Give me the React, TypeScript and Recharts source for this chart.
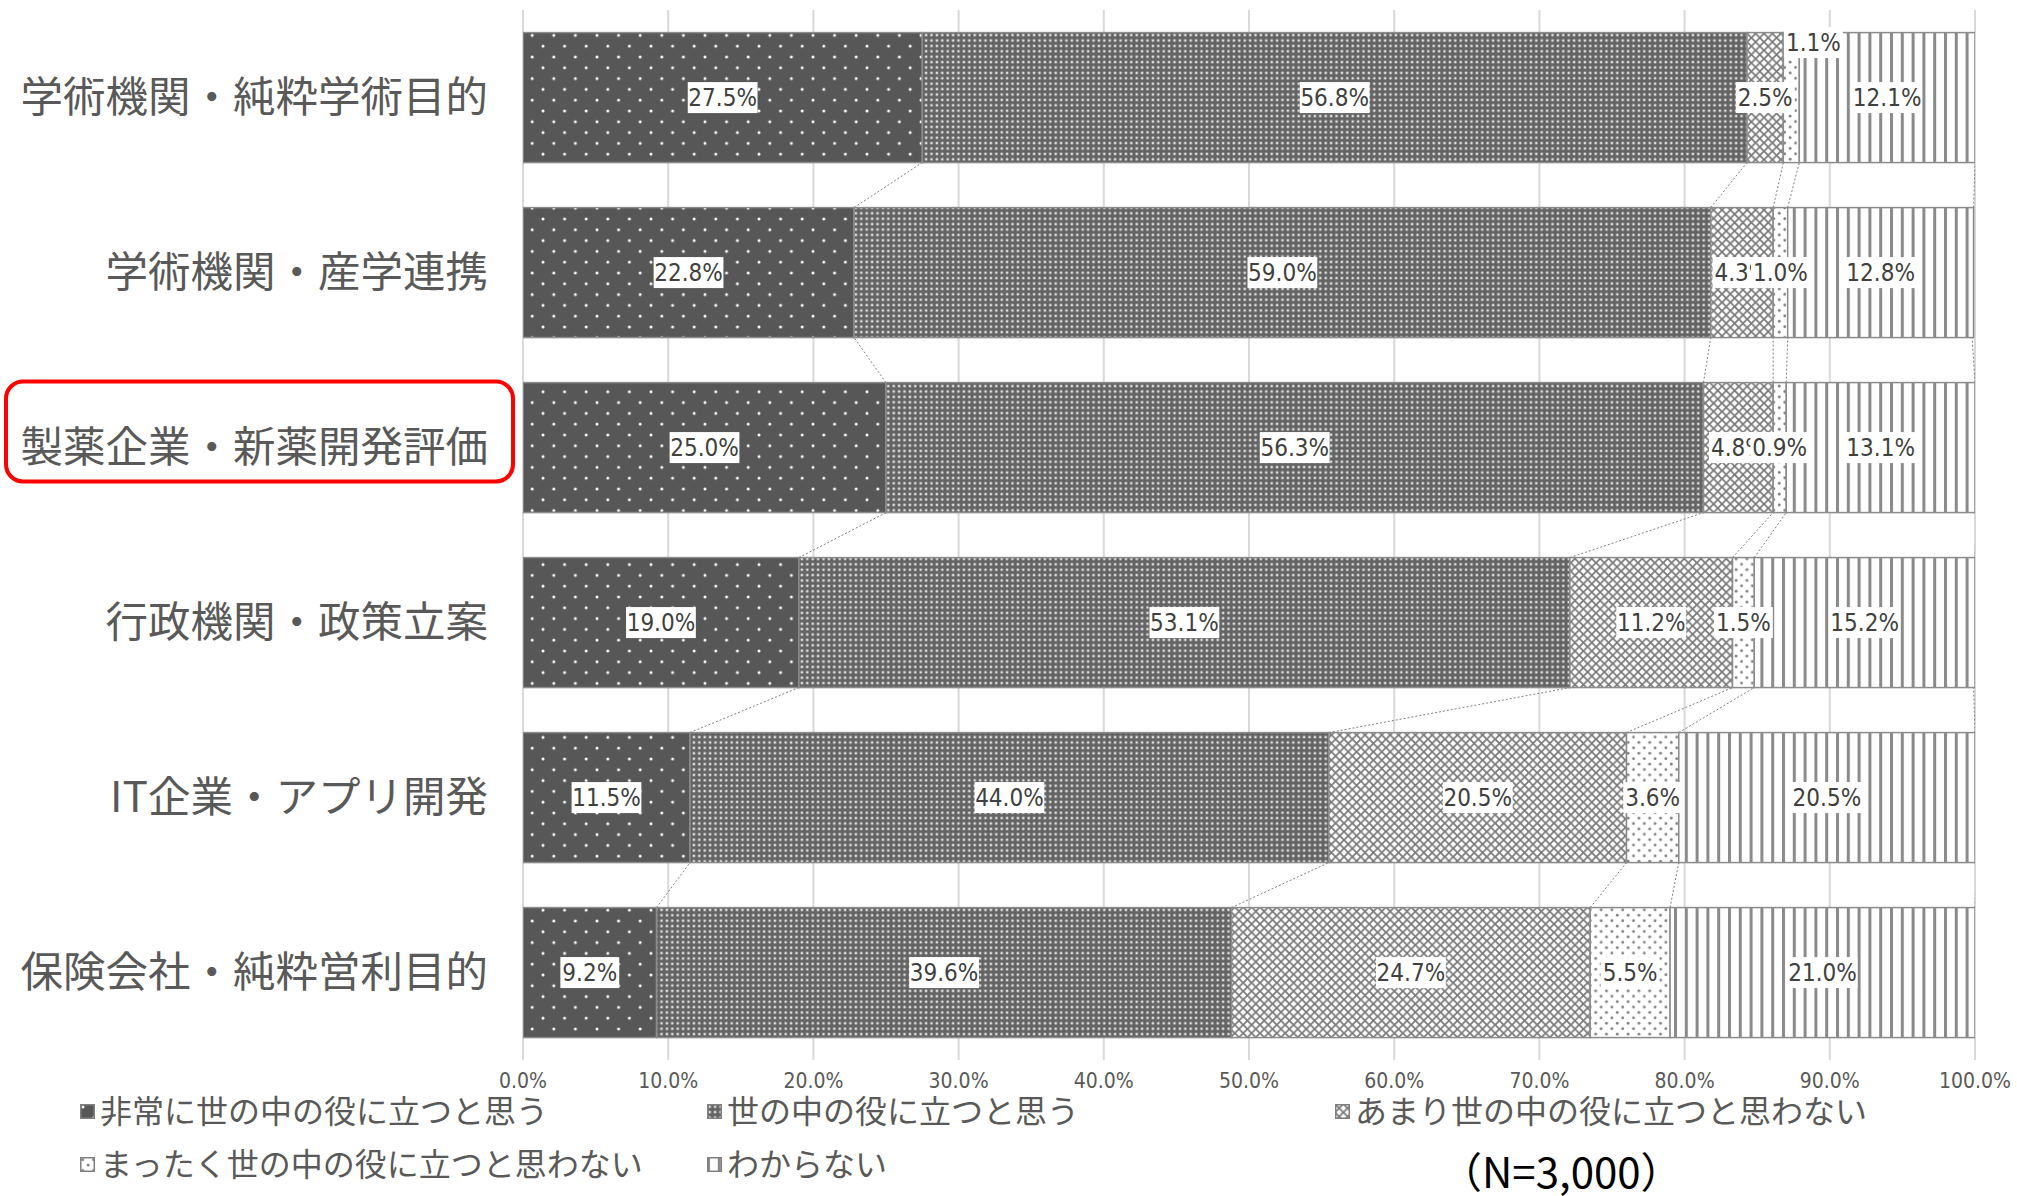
import React from "react";
import {
  Bar,
  BarChart,
  CartesianGrid,
  LabelList,
  Legend,
  XAxis,
  YAxis,
} from "recharts";

// categories (top to bottom)
const categories = [
  "学術機関・純粋学術目的",
  "学術機関・産学連携",
  "製薬企業・新薬開発評価",
  "行政機関・政策立案",
  "IT企業・アプリ開発",
  "保険会社・純粋営利目的",
];

const veryUseful = [27.5, 22.8, 25.0, 19.0, 11.5, 9.2];
const useful = [56.8, 59.0, 56.3, 53.1, 44.0, 39.6];
const notVery = [2.5, 4.3, 4.8, 11.2, 20.5, 24.7];
const notAtAll = [1.1, 1.0, 0.9, 1.5, 3.6, 5.5];
const dontKnow = [12.1, 12.8, 13.1, 15.2, 20.5, 21.0];

const seriesNames = [
  "非常に世の中の役に立つと思う",
  "世の中の役に立つと思う",
  "あまり世の中の役に立つと思わない",
  "まったく世の中の役に立つと思わない",
  "わからない",
];

const xTicks = [0, 10, 20, 30, 40, 50, 60, 70, 80, 90, 100];
const highlighted = "製薬企業・新薬開発評価";
const sampleNote = "（N=3,000）";

const seriesValues = [veryUseful, useful, notVery, notAtAll, dontKnow];
const seriesKeys = ["s1", "s2", "s3", "s4", "s5"];
const patternIds = ["pVery", "pUseful", "pNotVery", "pNotAtAll", "pDontKnow"];

const data = categories.map((name, i) => {
  const row: Record<string, string | number> = { name };
  seriesKeys.forEach((k, s) => {
    row[k] = seriesValues[s][i];
  });
  return row;
});

const W = 2017;
const H = 1196;
const NARROW =
  '"Liberation Sans Narrow", "DejaVu Sans Condensed", "Arial Narrow", sans-serif';
const JP = '"Noto Sans CJK JP", "Noto Sans", sans-serif';

const cumBefore = (i: number, s: number) => {
  let t = 0;
  for (let k = 0; k < s; k++) t += seriesValues[k][i];
  return t;
};

// y of each row's bar, filled while the bars render (row order)
const rowTops: number[] = [];

const renderSegment = (props: any, s: number) => {
  const { x, y, width, height, index } = props;
  rowTops[index] = y;
  let seriesLine = null;
  const v = seriesValues[s][index];
  if (index > 0 && v > 0 && rowTops[index - 1] !== undefined) {
    const k = width / v;
    const x0 = x - cumBefore(index, s) * k;
    const prevEnd = x0 + (cumBefore(index - 1, s) + seriesValues[s][index - 1]) * k;
    seriesLine = (
      <line
        x1={x + width}
        y1={y}
        x2={prevEnd}
        y2={rowTops[index - 1] + height}
        stroke="#7f7f7f"
        strokeWidth={1}
        strokeDasharray="2 2"
      />
    );
  }
  return (
    <g>
      <rect
        x={x}
        y={y}
        width={width}
        height={height}
        fill={`url(#${patternIds[s]})`}
        stroke="#8c8c8c"
        strokeWidth={1.5}
      />
      {seriesLine}
    </g>
  );
};

const textWidth = (t: string, fs: number) => {
  let w = 0;
  for (const c of t) w += c === "." ? 0.278 : c === "%" ? 0.889 : 0.556;
  return w * 0.82 * fs;
};

const renderLabel = (props: any, s: number) => {
  const vb = props.viewBox ?? props;
  const { x, y, width, height } = vb;
  const index = props.index;
  const value = index !== undefined ? seriesValues[s][index] : Number(props.value);
  const text = `${value.toFixed(1)}%`;
  const fs = 24;
  const bw = textWidth(text, fs) + 14;
  const bh = 31;
  let cx = x + width / 2;
  let cy = y + height / 2;
  // the tiny first-row segment label was pulled up to the top edge
  if (index === 0 && s === 3) {
    cx += 22;
    cy = y + 10;
  }
  return (
    <g>
      <rect x={cx - bw / 2} y={cy - bh / 2} width={bw} height={bh} fill="#ffffff" />
      <text
        x={cx}
        y={cy}
        dy="0.36em"
        textAnchor="middle"
        fontSize={fs}
        fontFamily={NARROW}
        fill="#404040"
      >
        {text}
      </text>
    </g>
  );
};

const CategoryTick = (props: any) => {
  const { x, y, payload } = props;
  return (
    <g>
      {payload.value === highlighted && (
        <rect
          x={x - 482}
          y={y - 66}
          width={507}
          height={100}
          rx={17}
          fill="none"
          stroke="#ff0000"
          strokeWidth={4}
        />
      )}
      <text
        x={x}
        y={y}
        dy="0.35em"
        textAnchor="end"
        fontSize={42.5}
        fontFamily={JP}
        fill="#595959"
      >
        {payload.value}
      </text>
    </g>
  );
};

const legendCols = [80, 707, 1335];
const legendRows = [19, 72];

const LegendContent = () => (
  <div style={{ position: "relative", width: W, height: 106 }}>
    {seriesNames.map((name, s) => (
      <div
        key={name}
        style={{
          position: "absolute",
          left: legendCols[s % 3],
          top: legendRows[Math.floor(s / 3)] - 16,
          height: 32,
          display: "flex",
          alignItems: "center",
          whiteSpace: "nowrap",
        }}
      >
        <svg width={15} height={15} style={{ marginTop: 4 }}>
          <rect
            x={0.75}
            y={0.75}
            width={13.5}
            height={13.5}
            fill={`url(#${patternIds[s]})`}
            stroke="#808080"
            strokeWidth={1.5}
          />
        </svg>
        <span
          style={{
            marginLeft: 5,
            fontSize: 32,
            fontFamily: JP,
            color: "#595959",
            lineHeight: "32px",
          }}
        >
          {name}
        </span>
      </div>
    ))}
    <div
      style={{
        position: "absolute",
        left: 1440,
        top: 60,
        fontSize: 42,
        lineHeight: "40px",
        fontFamily: JP,
        color: "#000000",
        whiteSpace: "nowrap",
      }}
    >
      {sampleNote}
    </div>
  </div>
);

export default function App() {
  return (
    <div style={{ position: "absolute", left: 0, top: 0, width: W, height: H, background: "#fff" }}>
      <BarChart
        width={W}
        height={H}
        data={data}
        layout="vertical"
        margin={{ top: 10, right: 42, bottom: 0, left: 0 }}
        barCategoryGap="12.9%"
      >
        <defs>
          <pattern id="pVery" width={21.6} height={21.6} patternUnits="userSpaceOnUse">
            <rect width={21.6} height={21.6} fill="#575757" />
            <circle cx={3} cy={3} r={1.5} fill="#ffffff" />
            <circle cx={13.8} cy={13.8} r={1.5} fill="#ffffff" />
          </pattern>
          <pattern id="pUseful" width={5.4} height={5.4} patternUnits="userSpaceOnUse">
            <rect width={5.4} height={5.4} fill="#636363" />
            <rect x={1.5} y={1.5} width={2.4} height={2.4} fill="#e0e0e0" />
          </pattern>
          <pattern id="pNotVery" width={8.4} height={8.4} patternUnits="userSpaceOnUse">
            <rect width={8.4} height={8.4} fill="#ffffff" />
            <path d="M0 0L8.4 8.4M8.4 0L0 8.4" stroke="#7a7a7a" strokeWidth={1.8} />
          </pattern>
          <pattern id="pNotAtAll" width={10.8} height={10.8} patternUnits="userSpaceOnUse">
            <rect width={10.8} height={10.8} fill="#ffffff" />
            <circle cx={2.7} cy={2.7} r={1.4} fill="#808080" />
            <circle cx={8.1} cy={8.1} r={1.4} fill="#808080" />
          </pattern>
          <pattern id="pDontKnow" width={10.8} height={10} patternUnits="userSpaceOnUse">
            <rect width={10.8} height={10} fill="#ffffff" />
            <rect x={0} y={0} width={3} height={10} fill="#8a8a8a" />
          </pattern>
        </defs>
        <CartesianGrid horizontal={false} stroke="#d9d9d9" strokeWidth={2} />
        <XAxis
          type="number"
          domain={[0, 100]}
          allowDataOverflow
          ticks={xTicks}
          tickFormatter={(v: number) => `${v.toFixed(1)}%`}
          axisLine={false}
          tickLine={false}
          tickSize={0}
          tickMargin={13}
          height={30}
          tick={{ fill: "#595959", fontSize: 21, fontFamily: NARROW }}
        />
        <YAxis
          type="category"
          dataKey="name"
          width={523}
          axisLine={false}
          tickLine={false}
          tickSize={0}
          tickMargin={35}
          tick={<CategoryTick />}
        />
        <Legend
          verticalAlign="bottom"
          content={() => <LegendContent />}
          wrapperStyle={{ left: 0, width: W, height: 106 }}
        />
        {seriesKeys.map((key, s) => (
          <Bar
            key={key}
            dataKey={key}
            name={seriesNames[s]}
            stackId="a"
            fill={`url(#${patternIds[s]})`}
            isAnimationActive={false}
            shape={(p: any) => renderSegment(p, s)}
          >
            <LabelList dataKey={key} content={(p: any) => renderLabel(p, s)} />
          </Bar>
        ))}
      </BarChart>
    </div>
  );
}
